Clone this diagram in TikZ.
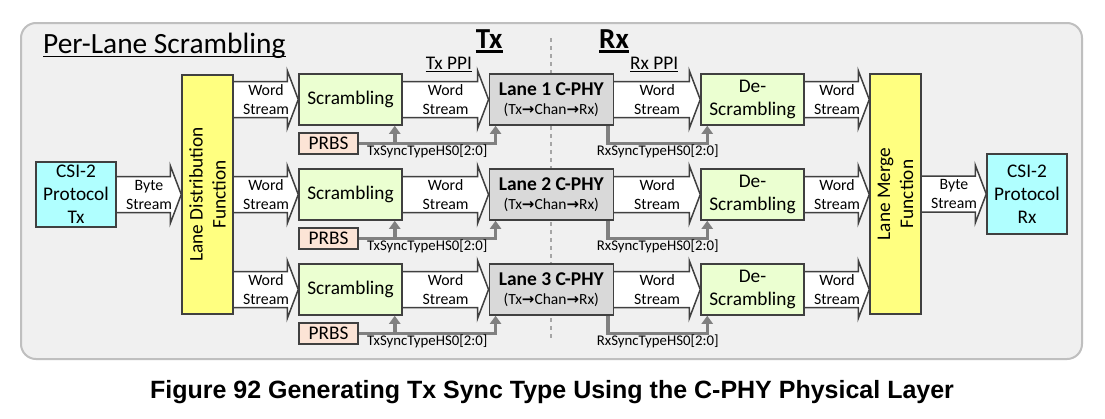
\documentclass[tikz,border=0pt]{standalone}
\usepackage{fontspec}
\setmainfont{Carlito}
\newfontfamily\dvs{DejaVu Sans}
\newfontfamily\capfont{Liberation Sans}
\usetikzlibrary{calc,arrows.meta}
\pgfdeclarelayer{bg}\pgfdeclarelayer{mid}\pgfsetlayers{bg,mid,main}
\definecolor{bord}{HTML}{404040}
\definecolor{cyanbox}{HTML}{B0FFFF}
\definecolor{yelbox}{HTML}{FFFF80}
\definecolor{grnbox}{HTML}{EBFFD1}
\definecolor{prbsbox}{HTML}{FCE4D6}
\definecolor{lanebox}{HTML}{D9D9D9}
\definecolor{panel}{HTML}{F0F0F0}
\definecolor{panelline}{HTML}{BFBFBF}
\definecolor{syncgray}{HTML}{808080}
\definecolor{divgray}{HTML}{A6A6A6}
\newcommand\blockarr[5]{%
 \begin{pgfonlayer}{mid}
 \draw[blk] let \p1=(#1.east), \p2=(#2.west), \p3=(#3.center) in
  (\x1,\y3+18pt) -- (\x2-11pt,\y3+18pt) -- (\x2-11pt,\y3+29pt) -- (\x2,\y3)
  -- (\x2-11pt,\y3-29pt) -- (\x2-11pt,\y3-18pt) -- (\x1,\y3-18pt)
  (\x1/2+\x2/2,\y3) node[lbl] (#4) {#5};
 \end{pgfonlayer}}
\newcommand\rarr{{\dvs\bfseries\fontsize{15}{18.5}\selectfont →}}
\begin{document}
\begin{tikzpicture}[x=1pt,y=-1pt,
 box/.style={draw=bord,line width=1.5pt,inner sep=0pt,align=center,font=\fontsize{19.3}{23}\selectfont},
 lbl/.style={inner sep=0pt,align=center,font=\fontsize{15.8}{19}\selectfont},
 synclbl/.style={inner sep=0pt,font=\fontsize{14.8}{17}\selectfont},
 blk/.style={draw=bord,fill=white,line width=1.5pt},
 sync/.style={draw=syncgray,line width=3.5pt,-{Triangle[width=11pt,length=8pt]}},
 head/.style={inner sep=0pt,font=\fontsize{29}{34}\selectfont\bfseries},
 ttlstyle/.style={inner sep=0pt,font=\fontsize{29.4}{34}\selectfont},
 sub/.style={inner sep=0pt,align=center,font=\fontsize{19.3}{23}\selectfont},
 uline/.style={line width=1.5pt}]

\useasboundingbox (0,0) rectangle (1105,418);
\begin{pgfonlayer}{bg}
\fill[white] (0,0) rectangle (1105,418);
\draw[draw=panelline,fill=panel,line width=2pt,rounded corners=15pt] (21,23) rectangle (1082,359);
\end{pgfonlayer}

\node[ttlstyle,anchor=base west] (ttl) at (43,53) {Per-Lane Scrambling};
\draw[uline] ($(ttl.base west)+(0,3.5)$) -- ($(ttl.base east)+(0,3.5)$);
\node[head,anchor=base west] (txh) at (475.7,48) {Tx};
\draw[line width=2.5pt] ($(txh.base west)+(0,3.5)$) -- ($(txh.base east)+(0,3.5)$);
\node[head,anchor=base west] (rxh) at (599,48) {Rx};
\draw[line width=2.5pt] ($(rxh.base west)+(0,3.5)$) -- ($(rxh.base east)+(0,3.5)$);
\node[sub,anchor=base west] (txppi) at (425.7,69.3) {Tx PPI};
\draw[uline] ($(txppi.base west)+(0,2)$) -- ($(txppi.base east)+(0,2)$);
\node[sub,anchor=base west] (rxppi) at (630,69.3) {Rx PPI};
\draw[uline] ($(rxppi.base west)+(0,2)$) -- ($(rxppi.base east)+(0,2)$);

\node[box,fill=cyanbox,minimum width=80pt,minimum height=65pt] (csitx) at (76,194.5) {CSI-2\\Protocol\\Tx};
\node[box,fill=yelbox,minimum width=51pt,minimum height=239pt] (ldf) at (207.5,194.5) {};
\node[sub,rotate=90] (ldftxt) at (ldf.center) {Lane Distribution\\Function};
\node[box,fill=yelbox,minimum width=51pt,minimum height=240pt] (lmf) at (895.5,194) {};
\node[sub,rotate=90] (lmftxt) at (lmf.center) {Lane Merge\\Function};
\node[box,fill=cyanbox,minimum width=80pt,minimum height=80pt] (csirx) at (1027,194) {CSI-2\\Protocol\\Rx};

\coordinate (dtop) at (551.3,38);
\coordinate (dbot) at (551.3,340);
\begin{pgfonlayer}{bg}
\draw[divgray,line width=2pt,dash pattern=on 4pt off 4pt] (dtop) -- (dbot);
\end{pgfonlayer}

\foreach \i in {1,2,3}{
 \pgfmathsetmacro\cy{99.5+95*(\i-1)}
 \pgfmathsetmacro\py{143.5+95*(\i-1)}
 \node[box,fill=grnbox,minimum width=103pt,minimum height=51pt] (scr\i) at (350.5,\cy) {Scrambling};
 \node[box,fill=prbsbox,minimum width=59pt,minimum height=21pt] (prbs\i) at (328.5,\py) {PRBS};
 \node[box,fill=lanebox,minimum width=124pt,minimum height=51pt,font=\fontsize{15.5}{18.5}\selectfont] (lane\i) at (551.3,\cy)
   {{\fontsize{19.5}{18.5}\selectfont\bfseries Lane \i\ C-PHY}\\(Tx\rarr Chan\rarr Rx)};
 \node[box,fill=grnbox,minimum width=103pt,minimum height=51pt] (desc\i) at (752.5,\cy) {De-\\Scrambling};
 \blockarr{ldf}{scr\i}{scr\i}{wa\i}{Word\\Stream}
 \blockarr{scr\i}{lane\i}{lane\i}{wb\i}{Word\\Stream}
 \blockarr{lane\i}{desc\i}{desc\i}{wc\i}{Word\\Stream}
 \blockarr{desc\i}{lmf}{desc\i}{wd\i}{Word\\Stream}
 \coordinate (ts\i) at ($(scr\i.south east)+(-8,0)$);
 \coordinate (tl\i) at ($(lane\i.south west)+(7,0)$);
 \coordinate (rl\i) at ($(lane\i.south east)+(-6,0)$);
 \coordinate (rd\i) at ($(desc\i.south west)+(7,0)$);
 \draw[sync] (prbs\i.east) -| (tl\i);
 \draw[sync] (ts\i |- prbs\i.east) -- (ts\i);
 \draw[sync] (rl\i) -- (rl\i |- prbs\i.east) -| (rd\i);
 \node[synclbl,anchor=base] (txl\i) at ($(prbs\i.east)+(68.5,11.5)$) {TxSyncTypeHS0[2:0]};
 \node[synclbl,anchor=base] (rxl\i) at ($(lane\i.south east)+(43.7,30)$) {RxSyncTypeHS0[2:0]};
}
\blockarr{csitx}{ldf}{csitx}{ba}{Byte\\Stream}
\blockarr{lmf}{csirx}{csirx}{bb}{Byte\\Stream}

\node[inner sep=0pt,anchor=base,font=\capfont\bfseries\fontsize{25}{30}\selectfont] (cap) at (552,398) {Figure 92 Generating Tx Sync Type Using the C-PHY Physical Layer};
\end{tikzpicture}
\end{document}
